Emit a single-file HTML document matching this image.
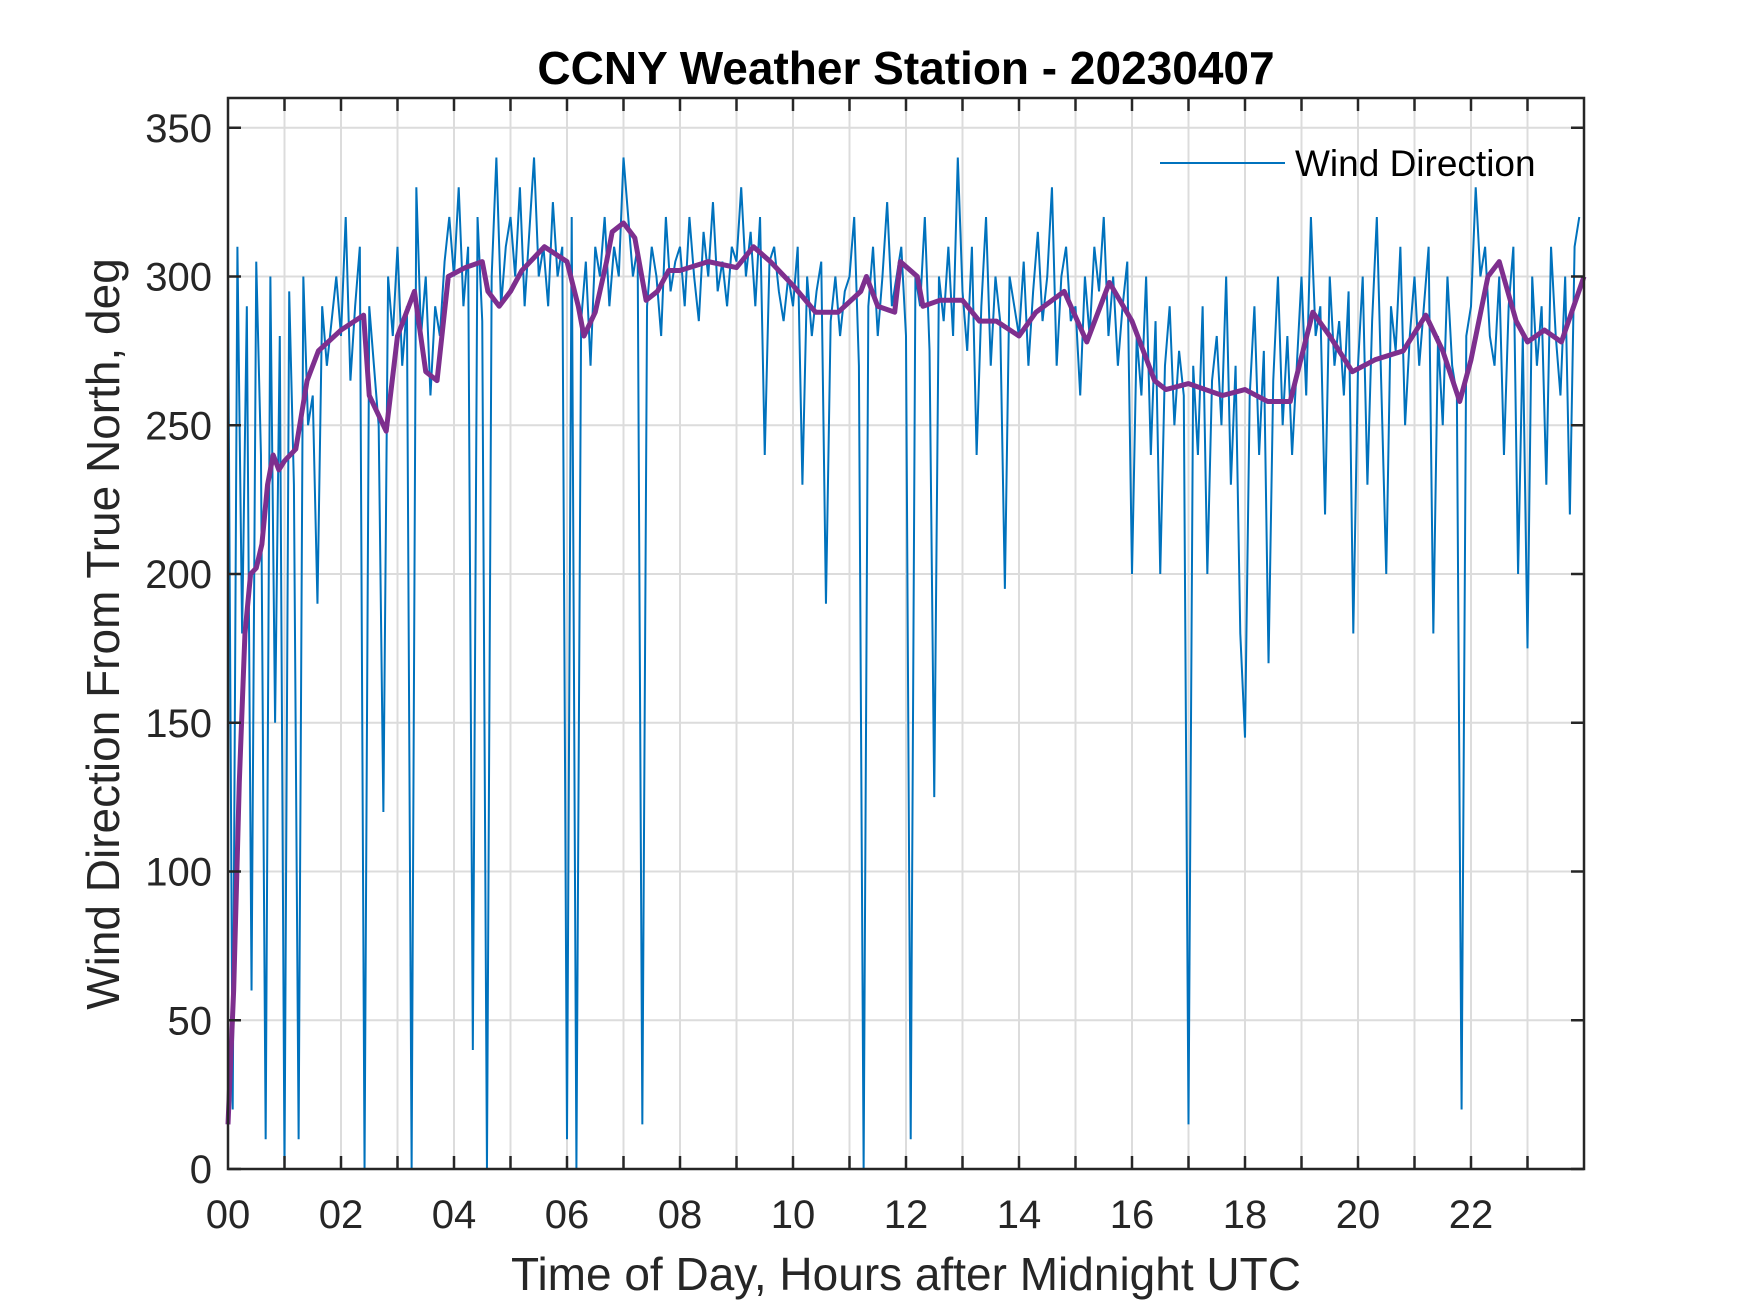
<!DOCTYPE html>
<html><head><meta charset="utf-8"><style>
body{margin:0;background:#fff}
svg{display:block;font-family:"Liberation Sans",Arial,sans-serif}
</style></head><body>
<svg id="chart" width="1750" height="1313" viewBox="0 0 1750 1313">
<rect width="1750" height="1313" fill="#fff"/>
<g id="grid"></g>
<g id="plot"></g>
<g id="axes"></g>
<text x="906" y="84" text-anchor="middle" font-size="46" font-weight="bold" fill="#000">CCNY Weather Station - 20230407</text>
<text x="906" y="1290" text-anchor="middle" font-size="46" fill="#262626">Time of Day, Hours after Midnight UTC</text>
<text transform="translate(119,634) rotate(-90)" text-anchor="middle" font-size="46" fill="#262626">Wind Direction From True North, deg</text>
<g>
<line x1="1160" y1="163" x2="1285" y2="163" stroke="#0072BD" stroke-width="2"/>
<text x="1295" y="176" font-size="37" fill="#000">Wind Direction</text>
</g>
</svg>
<script>
const yTicks=[0,50,100,150,200,250,300,350];
const xTickLabels=["00","02","04","06","08","10","12","14","16","18","20","22"];
const blueValues=[
300,20,310,180,290,60,305,240,10,300,150,280,
0,295,230,10,300,250,260,190,290,270,285,300,
280,320,265,290,310,0,290,270,250,120,300,280,
310,270,290,0,330,280,300,260,290,280,305,320,
300,330,290,310,40,320,285,0,300,340,290,310,
320,300,330,290,315,340,300,310,290,325,300,310,
10,320,0,285,305,270,310,300,320,290,310,300,
340,320,300,310,15,290,310,300,280,320,295,305,
310,290,320,300,285,315,300,325,295,305,290,310,
305,330,300,315,290,320,240,305,310,295,285,300,
290,310,230,300,280,295,305,190,285,300,280,295,
300,320,270,0,290,310,280,300,325,290,300,310,
280,10,300,290,320,275,125,300,285,310,280,340,
295,275,310,240,290,320,270,300,285,195,300,290,
280,305,270,295,315,285,300,330,270,300,310,285,
290,260,300,280,310,295,320,280,300,270,290,305,
200,280,260,300,240,285,200,270,290,250,275,260,
15,270,240,290,200,265,280,250,300,230,270,180,
145,260,290,240,275,170,265,300,250,280,240,270,
300,260,320,280,290,220,300,270,285,260,295,180,
270,300,230,285,320,260,200,290,275,310,250,280,
300,270,290,310,180,280,250,300,270,260,20,280,
290,330,300,310,280,270,300,240,290,310,200,280,
175,300,270,290,230,310,280,260,300,220,310,320];
const purpleHours=[0,0.1,0.2,0.3,0.4,0.5,0.6,0.7,0.8,0.9,1.0,1.2,1.4,1.6,2.0,2.4,2.5,2.7,2.8,3.0,3.2,3.3,3.5,3.7,3.9,4.2,4.5,4.6,4.8,5.0,5.2,5.6,6.0,6.2,6.3,6.5,6.7,6.8,7.0,7.2,7.4,7.6,7.8,8.0,8.5,9.0,9.3,9.6,10.0,10.4,10.8,11.2,11.3,11.5,11.8,11.9,12.2,12.3,12.6,13.0,13.3,13.6,14.0,14.3,14.8,15.2,15.6,16.0,16.4,16.6,17.0,17.3,17.6,18.0,18.4,18.8,19.2,19.5,19.9,20.3,20.8,21.2,21.5,21.8,22.0,22.3,22.5,22.8,23.0,23.3,23.6,24.0];
const purpleValues=[15,60,130,180,200,202,210,230,240,235,238,242,265,275,282,287,260,252,248,280,290,295,268,265,300,303,305,295,290,295,302,310,305,290,280,288,305,315,318,313,292,295,302,302,305,303,310,305,297,288,288,295,300,290,288,305,300,290,292,292,285,285,280,288,295,278,298,285,265,262,264,262,260,262,258,258,288,280,268,272,275,287,275,258,272,300,305,285,278,282,278,300];

const L=228,R=1584,T=98,B=1169,YMAX=360,XMAX=24;
const xs=h=>L+(h/XMAX)*(R-L);
const ys=v=>B-(v/YMAX)*(B-T);
const NS="http://www.w3.org/2000/svg";
function mk(tag,parent){const e=document.createElementNS(NS,tag);parent.appendChild(e);return e;}
const grid=document.getElementById('grid'),plot=document.getElementById('plot'),axes=document.getElementById('axes');

for(let h=1;h<24;h++){
  const l=mk('line',grid);
  
  
  l.setAttribute('x1',xs(h));l.setAttribute('x2',xs(h));l.setAttribute('y1',T);l.setAttribute('y2',B);
  l.setAttribute('stroke','#dcdcdc');l.setAttribute('stroke-width','2');
}
yTicks.forEach(v=>{
  if(v>0){const l=mk('line',grid);
  
  
  l.setAttribute('x1',L);l.setAttribute('x2',R);l.setAttribute('y1',ys(v));l.setAttribute('y2',ys(v));
  l.setAttribute('stroke','#dcdcdc');l.setAttribute('stroke-width','2');}
});

const bp=blueValues.map((v,i)=>xs(i*24/blueValues.length)+','+ys(v)).join(' ');
const blue=mk('polyline',plot);


blue.setAttribute('points',bp);blue.setAttribute('fill','none');blue.setAttribute('stroke','#0072BD');blue.setAttribute('stroke-width','2');

const pp=purpleHours.map((h,i)=>xs(h)+','+ys(purpleValues[i])).join(' ');
const pur=mk('polyline',plot);


pur.setAttribute('points',pp);pur.setAttribute('fill','none');pur.setAttribute('stroke','#7E2F8E');pur.setAttribute('stroke-width','5');pur.setAttribute('stroke-linejoin','round');

const box=mk('rect',axes);


box.setAttribute('x',L);box.setAttribute('y',T);box.setAttribute('width',R-L);box.setAttribute('height',B-T);
box.setAttribute('fill','none');box.setAttribute('stroke','#262626');box.setAttribute('stroke-width','2.5');

for(let h=1;h<24;h++){
  [[B,B-13],[T,T+13]].forEach(([a,b])=>{
    const t=mk('line',axes);
    
    
    t.setAttribute('x1',xs(h));t.setAttribute('x2',xs(h));t.setAttribute('y1',a);t.setAttribute('y2',b);
    t.setAttribute('stroke','#262626');t.setAttribute('stroke-width','2.5');
  });
}
xTickLabels.forEach((s,i)=>{
  const t=mk('text',axes);
  
  
  t.setAttribute('x',xs(i*2));t.setAttribute('y',B+59);t.setAttribute('text-anchor','middle');
  t.setAttribute('font-size','40');t.setAttribute('fill','#262626');t.textContent=s;
});
yTicks.forEach(v=>{
  [[L,L+13],[R,R-13]].forEach(([a,b])=>{
    const t=mk('line',axes);
    
    
    t.setAttribute('x1',a);t.setAttribute('x2',b);t.setAttribute('y1',ys(v));t.setAttribute('y2',ys(v));
    t.setAttribute('stroke','#262626');t.setAttribute('stroke-width','2.5');
  });
  const t=mk('text',axes);
  
  
  t.setAttribute('x',L-16);t.setAttribute('y',ys(v)+14);t.setAttribute('text-anchor','end');
  t.setAttribute('font-size','40');t.setAttribute('fill','#262626');t.textContent=v;
});
</script>
</body></html>
